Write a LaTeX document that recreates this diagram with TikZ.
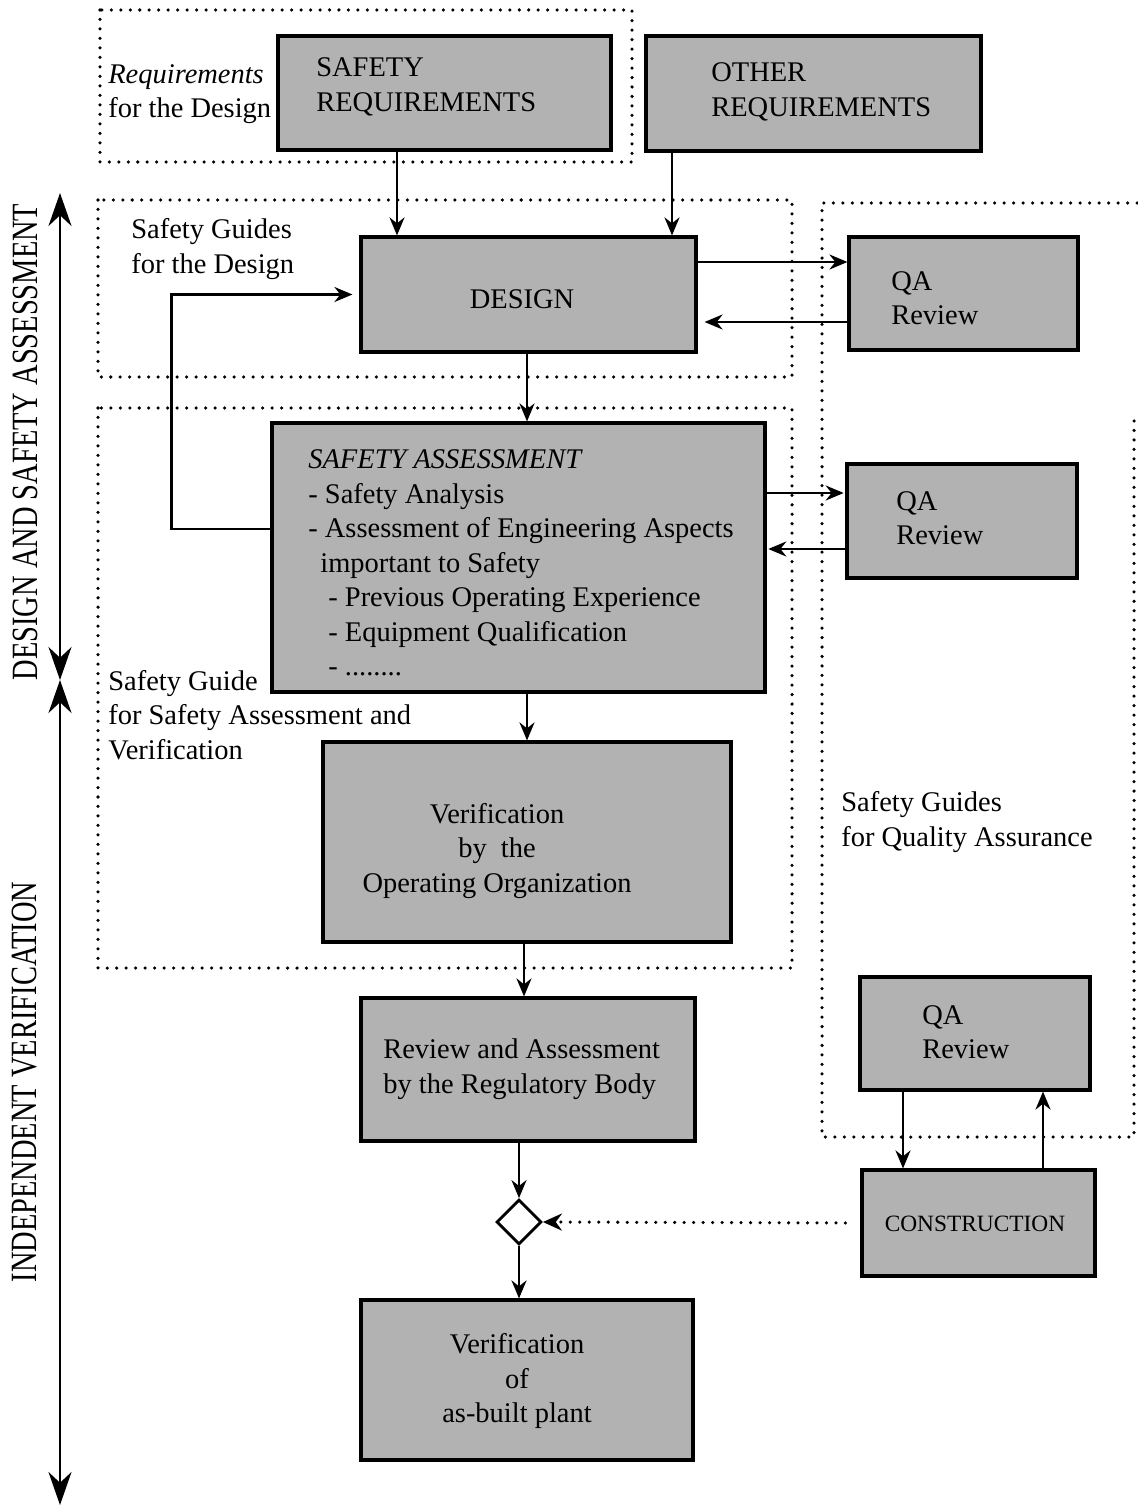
\documentclass[tikz,border=0pt]{standalone}
\usepackage{fontspec}
\setmainfont{Liberation Serif}
\usetikzlibrary{arrows.meta,shapes.geometric,positioning}
\tikzstyle{box}   =[draw, fill=black!30, line width=1.8pt,
                    inner sep=0pt]
\tikzstyle{txt}   =[inner sep=0pt, align=left,
                    font=\fontsize{16.2}{19.6}\selectfont]
\tikzstyle{region}=[line width=2pt, dash pattern=on 0pt off 5.4pt,
                    line cap=round]
\tikzstyle{arr}   =[-{Stealth[length=0.36cm, width=0.3cm]},
                    line width=1.4pt]
\tikzstyle{bigarr}=[{Stealth[length=0.66cm, width=0.46cm]}-{Stealth[length=0.66cm, width=0.46cm]},
                    line width=1.4pt]

\begin{document}
\begin{tikzpicture}[x=0.02cm, y=-0.02cm]
    \useasboundingbox (0,0) rectangle (1137,1507);
    % dotted regions
    \draw[region] (100,10) rectangle (632,162);
    \draw[region] (98,200) rectangle (792,377);
    \draw[region] (98,408) rectangle (792,968);
    \draw[region] (1137,203) -- (822,203) -- (822,1137) -- (1134,1137) -- (1134,420);
    % boxes
    \node[box, minimum width=6.66cm, minimum height=2.28cm] (sreq)    at (444.5,93)   {};
    \node[box, minimum width=6.70cm, minimum height=2.30cm] (oreq)    at (813.5,93.5) {};
    \node[box, minimum width=6.70cm, minimum height=2.30cm] (design)  at (528.5,294.5) {};
    \node[box, minimum width=4.58cm, minimum height=2.26cm] (qa1)     at (963.5,293.5) {};
    \node[box, minimum width=9.86cm, minimum height=5.38cm] (sa)      at (518.5,557.5) {};
    \node[box, minimum width=4.60cm, minimum height=2.28cm] (qa2)     at (962,521)    {};
    \node[box, minimum width=8.16cm, minimum height=4.00cm] (verif)   at (527,842)    {};
    \node[box, minimum width=6.68cm, minimum height=2.86cm] (review)  at (528,1069.5) {};
    \node[box, minimum width=4.60cm, minimum height=2.26cm] (qa3)     at (975,1033.5) {};
    \node[box, minimum width=4.66cm, minimum height=2.12cm] (cons)    at (978.5,1223) {};
    \node[box, minimum width=6.64cm, minimum height=3.20cm] (asbuilt) at (527,1380)   {};
    \node[diamond, draw, fill=white, line width=1.6pt, inner sep=0pt,
          minimum width=0.9cm, minimum height=0.9cm] (gate) at (519,1222) {};
    % box texts
    \node[txt, anchor=west] (sreq-t)   at (316,87)   {SAFETY\\REQUIREMENTS};
    \node[txt, anchor=west] (oreq-t)   at (711,92)   {OTHER\\REQUIREMENTS};
    \node[txt]              (design-t) at (522,299)  {DESIGN};
    \node[txt, anchor=west] (qa1-t)    at (891,298)  {QA\\Review};
    \node[txt, anchor=west] (sa-t)     at (308,563)  {\textit{SAFETY ASSESSMENT}\\- Safety Analysis\\- Assessment of Engineering Aspects\\\hspace*{0.24cm}important to Safety\\\hspace*{0.4cm}- Previous Operating Experience\\\hspace*{0.4cm}- Equipment Qualification\\\hspace*{0.4cm}- ........};
    \node[txt, anchor=west] (qa2-t)    at (896,518)  {QA\\Review};
    \node[txt, align=center] (verif-t) at (497,851)  {Verification\\by\ \ the\\Operating Organization};
    \node[txt, anchor=west] (review-t) at (383,1069) {Review and Assessment\\by the Regulatory Body};
    \node[txt, anchor=west] (qa3-t)    at (922,1032) {QA\\Review};
    \node[txt, font=\fontsize{13.3}{16}\selectfont] (cons-t) at (975,1224) {CONSTRUCTION};
    \node[txt, align=center] (asbuilt-t) at (517,1381) {Verification\\of\\as-built plant};
    % region labels
    \node[txt, anchor=west] (reqlbl) at (108,94)  {\textit{Requirements}\\for the Design};
    \node[txt, anchor=west] (deslbl) at (131,249) {Safety Guides\\for the Design};
    \node[txt, anchor=west] (salbl)  at (108,715) {Safety Guide\\for Safety Assessment and\\Verification};
    \node[txt, anchor=west] (qalbl)  at (841,822) {Safety Guides\\for Quality Assurance};
    % phase arrows
    \coordinate (phtop) at (60,193);
    \coordinate (phmid) at (60,680);
    \coordinate (phbot) at (60,1505);
    \draw[bigarr] (phtop) -- (phmid);
    \draw[bigarr] (phmid) -- (phbot);
    \node[txt, rotate=90, yscale=1.3] (ph1) at (25,442)  {DESIGN AND SAFETY ASSESSMENT};
    \node[txt, rotate=90, yscale=1.3] (ph2) at (25,1082) {INDEPENDENT VERIFICATION};
    % connectors
    \draw[arr] (sreq.south -| 397,0) -- (design.north -| 397,0);
    \draw[arr] (oreq.south -| 672,0) -- (design.north -| 672,0);
    \draw[arr] (design.east |- 0,262) -- (qa1.west |- 0,262);
    \draw[arr, shorten >=4pt] (qa1.west |- 0,322) -- (design.east |- 0,322);
    \draw[arr, shorten >=4pt] (sa.west |- 0,529) -- ++(-99,0) |- (design.west);
    \draw[arr] (design.south -| 527,0) -- (sa.north -| 527,0);
    \draw[arr, shorten >=1pt] (sa.east |- 0,493) -- (qa2.west |- 0,493);
    \draw[arr, shorten >=1pt] (qa2.west |- 0,549) -- (sa.east |- 0,549);
    \draw[arr] (sa.south -| 527,0) -- (verif.north -| 527,0);
    \draw[arr] (verif.south -| 524,0) -- (review.north -| 524,0);
    \draw[arr] (review.south -| gate) -- (gate.north);
    \draw[arr] (gate.south) -- (asbuilt.north -| gate);
    \draw[arr] (qa3.south -| 903,0) -- (cons.north -| 903,0);
    \draw[arr] (cons.north -| 1043,0) -- (qa3.south -| 1043,0);
    \draw[region, shorten <=0.3cm,
          -{Stealth[length=0.38cm, width=0.34cm]}] (cons.west) -- (gate.east);
\end{tikzpicture}
\end{document}
